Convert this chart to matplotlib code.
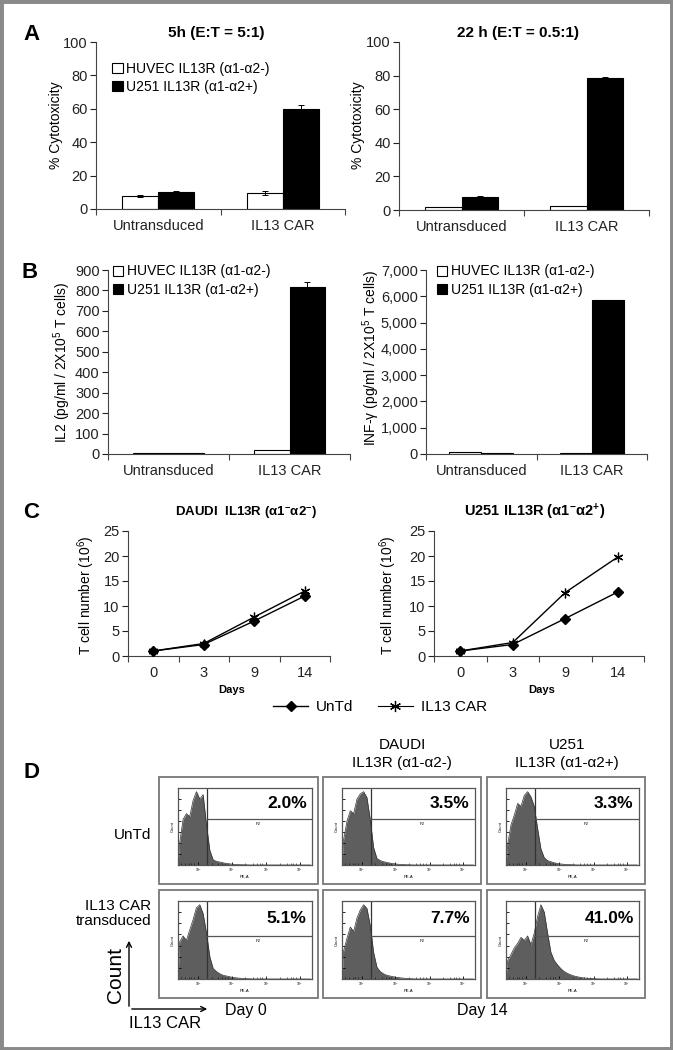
import numpy as np
import matplotlib
matplotlib.use("Agg")
import matplotlib.pyplot as plt
from matplotlib.patches import Rectangle, FancyArrowPatch
from matplotlib.lines import Line2D

plt.rcParams['font.family'] = ['Liberation Sans', 'DejaVu Sans']
plt.rcParams['mathtext.fontset'] = 'custom'
plt.rcParams['mathtext.rm'] = 'Liberation Sans'
plt.rcParams['mathtext.it'] = 'Liberation Sans'
plt.rcParams['mathtext.bf'] = 'Liberation Sans:bold'

# ---- data ----
groups = ["Untransduced", "IL13 CAR"]
series = ["HUVEC IL13R (α1-α2-)", "U251 IL13R (α1-α2+)"]

cyto_5h_huvec = [7.5, 9.5]
cyto_5h_huvec_err = [0.6, 1.0]
cyto_5h_u251 = [10.3, 60.0]
cyto_5h_u251_err = [0.4, 2.0]

cyto_22h_huvec = [2.0, 2.3]
cyto_22h_u251 = [8.0, 78.5]
cyto_22h_u251_err = [0.2, 0.5]

il2_huvec = [5, 18]
il2_u251 = [5, 818]
il2_u251_err = [0, 25]

ifng_huvec = [60, 55]
ifng_u251 = [45, 5850]

days = ["0", "3", "9", "14"]
daudi_untd = [1.0, 2.3, 7.0, 12.0]
daudi_car = [1.0, 2.5, 7.8, 13.0]
u251_untd = [1.0, 2.3, 7.5, 12.8]
u251_car = [1.0, 2.7, 12.7, 19.8]

pct_labels = [["2.0%", "3.5%", "3.3%"], ["5.1%", "7.7%", "41.0%"]]

# flow histograms, 40 bins over the PE-A axis (fraction of peak)
hist_r1c1 = [0.30, 0.62, 0.70, 0.66, 0.88, 1.00, 0.90, 0.96, 0.55, 0.20, 0.07,
             0.05, 0.04, 0.03, 0.02, 0.015, 0.01, 0.006, 0.004, 0.003, 0.002,
             0, 0, 0, 0, 0, 0, 0, 0, 0, 0, 0, 0, 0, 0, 0, 0, 0, 0, 0]
hist_r1c2 = [0.35, 0.60, 0.74, 0.70, 0.90, 0.97, 1.00, 0.92, 0.62, 0.24, 0.09,
             0.06, 0.045, 0.035, 0.025, 0.018, 0.012, 0.008, 0.005, 0.003,
             0.002, 0, 0, 0, 0, 0, 0, 0, 0, 0, 0, 0, 0, 0, 0, 0, 0, 0, 0, 0]
hist_r1c3 = [0.28, 0.55, 0.68, 0.84, 0.80, 0.95, 1.00, 0.93, 0.80, 0.50, 0.22,
             0.10, 0.06, 0.045, 0.03, 0.02, 0.014, 0.009, 0.006, 0.004,
             0.002, 0, 0, 0, 0, 0, 0, 0, 0, 0, 0, 0, 0, 0, 0, 0, 0, 0, 0, 0]
hist_r2c1 = [0.50, 0.58, 0.52, 0.66, 0.80, 0.96, 1.00, 0.88, 0.62, 0.30, 0.14,
             0.10, 0.07, 0.05, 0.04, 0.03, 0.02, 0.015, 0.01, 0.006, 0.004,
             0.002, 0, 0, 0, 0, 0, 0, 0, 0, 0, 0, 0, 0, 0, 0, 0, 0, 0, 0]
hist_r2c2 = [0.38, 0.55, 0.70, 0.64, 0.82, 0.93, 1.00, 0.95, 0.72, 0.36, 0.16,
             0.10, 0.07, 0.05, 0.04, 0.03, 0.022, 0.016, 0.011, 0.007, 0.004,
             0.002, 0, 0, 0, 0, 0, 0, 0, 0, 0, 0, 0, 0, 0, 0, 0, 0, 0, 0]
hist_r2c3 = [0.25, 0.33, 0.42, 0.48, 0.56, 0.52, 0.58, 0.46, 0.62, 0.84, 1.00,
             0.90, 0.62, 0.36, 0.25, 0.19, 0.14, 0.10, 0.075, 0.055, 0.04,
             0.03, 0.02, 0.014, 0.01, 0.006, 0.004, 0.002, 0, 0,
             0, 0, 0, 0, 0, 0, 0, 0, 0, 0]
hists = [[hist_r1c1, hist_r1c2, hist_r1c3], [hist_r2c1, hist_r2c2, hist_r2c3]]

# ---- layout helpers (pixel coords, origin top-left) ----
W, H = 673, 1050
fig = plt.figure(figsize=(W / 100, H / 100), dpi=100)
TICK_FS = 10.5


def px_axes(x0, y0, x1, y1):
    return fig.add_axes([x0 / W, 1 - y1 / H, (x1 - x0) / W, (y1 - y0) / H])


def ftext(x, y, s, **kw):
    kw.setdefault('ha', 'center')
    kw.setdefault('va', 'center')
    return fig.text(x / W, 1 - y / H, s, **kw)


def style_spines(ax):
    for s in ['top', 'right']:
        ax.spines[s].set_visible(False)
    for s in ['left', 'bottom']:
        ax.spines[s].set_linewidth(0.8)
        ax.spines[s].set_color('#444444')
    ax.tick_params(axis='y', direction='out', length=4, width=0.8,
                   labelsize=TICK_FS, colors='#222222', pad=2)
    ax.tick_params(axis='x', which='major', direction='out', length=4,
                   width=0.8, labelbottom=False, colors='#444444')
    ax.tick_params(axis='x', which='minor', length=0, labelsize=TICK_FS,
                   pad=7, labelcolor='#222222')


def bar_panel(ax, white, black, white_err=None, black_err=None):
    x = np.arange(len(groups))
    w = 0.29
    ax.bar(x - w / 2, white, w, color='white', edgecolor='black', lw=0.8,
           yerr=white_err, error_kw=dict(lw=0.7, capsize=2, capthick=0.7),
           label=series[0], zorder=2)
    ax.bar(x + w / 2, black, w, color='black', edgecolor='black', lw=0.8,
           yerr=black_err, error_kw=dict(lw=0.7, capsize=2, capthick=0.7),
           label=series[1], zorder=2)
    style_spines(ax)
    ax.set_xlim(-0.5, 1.5)
    ax.set_xticks([-0.5, 0.5, 1.5])
    ax.set_xticks(x, minor=True)
    ax.set_xticklabels(groups, minor=True)


def bar_legend(ax, loc_xy):
    ax.legend(loc='upper left', bbox_to_anchor=loc_xy, frameon=False,
              fontsize=10, handlelength=0.75, handleheight=0.75,
              handletextpad=0.25, labelspacing=0.3, borderaxespad=0,
              borderpad=0)


# ---- Panel A ----
axA1 = px_axes(96, 42, 345, 209)
bar_panel(axA1, cyto_5h_huvec, cyto_5h_u251, cyto_5h_huvec_err, cyto_5h_u251_err)
axA1.set_ylim(0, 100)
axA1.set_yticks(range(0, 101, 20))
bar_legend(axA1, (0.065, 0.88))
ftext(216, 33, "5h (E:T = 5:1)", fontsize=11, fontweight='bold')
ftext(56, 125, "% Cytotoxicity", fontsize=10, rotation=90)

axA2 = px_axes(399, 42, 649, 210)
bar_panel(axA2, cyto_22h_huvec, cyto_22h_u251, None, cyto_22h_u251_err)
axA2.set_ylim(0, 100)
axA2.set_yticks(range(0, 101, 20))
ftext(518, 33, "22 h (E:T = 0.5:1)", fontsize=11, fontweight='bold')
ftext(358, 125, "% Cytotoxicity", fontsize=10, rotation=90)

ftext(31, 34, "A", fontsize=16, fontweight='bold')

# ---- Panel B ----
axB1 = px_axes(108, 270, 350, 454)
bar_panel(axB1, il2_huvec, il2_u251, None, il2_u251_err)
axB1.set_ylim(0, 900)
axB1.set_yticks(range(0, 901, 100))
bar_legend(axB1, (0.02, 1.03))
ftext(62, 362, "IL2 (pg/ml / 2X10$^5$ T cells)", fontsize=10, rotation=90)

axB2 = px_axes(426, 270, 647, 454)
bar_panel(axB2, ifng_huvec, ifng_u251)
axB2.set_ylim(0, 7000)
axB2.set_yticks(range(0, 7001, 1000))
axB2.set_yticklabels([f"{v:,}" for v in range(0, 7001, 1000)])
bar_legend(axB2, (0.05, 1.03))
ftext(371, 358, "INF-γ (pg/ml / 2X10$^5$ T cells)", fontsize=10, rotation=90)

ftext(30, 273, "B", fontsize=16, fontweight='bold')


# ---- Panel C ----
def growth_panel(ax, untd, car):
    x = np.arange(len(days))
    ax.plot(x, untd, color='black', lw=1.0, marker='D', ms=5,
            mfc='black', mec='black', zorder=3)
    ax.plot(x, car, color='black', lw=1.0, marker=(6, 2, 0), ms=7,
            mew=0.9, zorder=3)
    style_spines(ax)
    ax.set_ylim(0, 25)
    ax.set_yticks(range(0, 26, 5))
    ax.set_xlim(-0.5, len(days) - 0.5)
    ax.set_xticks(np.arange(len(days) + 1) - 0.5)
    ax.set_xticks(x, minor=True)
    ax.set_xticklabels(days, minor=True)


axC1 = px_axes(128, 531, 330, 656)
growth_panel(axC1, daudi_untd, daudi_car)
ftext(246, 513, "DAUDI  IL13R (α1$^{\\mathbf{-}}$α2$^{\\mathbf{-}}$)",
      fontsize=9.5, fontweight='bold')
ftext(232, 690, "Days", fontsize=8, fontweight='bold')
ftext(86, 595, "T cell number (10$^6$)", fontsize=10, rotation=90)

axC2 = px_axes(434, 531, 644, 656)
growth_panel(axC2, u251_untd, u251_car)
ftext(535, 512, "U251 IL13R (α1$^{\\mathbf{-}}$α2$^{\\mathbf{+}}$)",
      fontsize=10.5, fontweight='bold')
ftext(542, 690, "Days", fontsize=8, fontweight='bold')
ftext(388, 595, "T cell number (10$^6$)", fontsize=10, rotation=90)

ftext(31, 513, "C", fontsize=16, fontweight='bold')

handles = [Line2D([], [], color='black', lw=1.0, marker='D', ms=5),
           Line2D([], [], color='black', lw=0.8, marker=(6, 2, 0), ms=8, mew=0.9)]
fig.legend(handles, ["UnTd", "IL13 CAR"], loc='center',
           bbox_to_anchor=(380 / W, 1 - 707 / H), ncol=2, frameon=False,
           fontsize=11, handlelength=2.3, columnspacing=1.6, handletextpad=0.5)

# ---- Panel D ----
ftext(31, 773, "D", fontsize=16, fontweight='bold')
ftext(402, 745, "DAUDI", fontsize=11)
ftext(402, 763, "IL13R (α1-α2-)", fontsize=11)
ftext(567, 745, "U251", fontsize=11)
ftext(567, 763, "IL13R (α1-α2+)", fontsize=11)
ftext(151, 835, "UnTd", fontsize=11, ha='right')
ftext(151, 906, "IL13 CAR", fontsize=11, ha='right')
ftext(151, 921, "transduced", fontsize=11, ha='right')

box_cols = [(159, 318), (323, 481), (487, 645)]
box_rows = [(777, 884), (890, 998)]
gate_frac = [0.63, 0.58]
edges = np.linspace(0, 1, 41)
centers = (edges[:-1] + edges[1:]) / 2
xmaj = [0.15, 0.40, 0.66, 0.91]

for r, (by0, by1) in enumerate(box_rows):
    for c, (bx0, bx1) in enumerate(box_cols):
        fig.patches.append(Rectangle((bx0 / W, 1 - by1 / H), (bx1 - bx0) / W,
                                     (by1 - by0) / H, transform=fig.transFigure,
                                     fill=False, ec='#777777', lw=1.3))
        ix0, ix1, iy0, iy1 = bx0 + 19, bx1 - 6, by0 + 11, by1 - 19
        ax = px_axes(ix0, iy0, ix1, iy1)
        xs = np.concatenate([[0], centers])
        ys = np.concatenate([[0], hists[r][c]])
        ax.fill_between(xs, ys, color='#5e5e5e', lw=0)
        ax.plot(xs, ys, color='#333333', lw=0.5)
        ax.set_xlim(0, 1)
        ax.set_ylim(0, 1.05)
        for s in ax.spines.values():
            s.set_linewidth(0.9)
            s.set_color('#555555')
        gx = 0.22
        ax.axvline(gx, color='#333333', lw=0.9)
        ax.plot([gx, 1], [gate_frac[r]] * 2, color='#555555', lw=0.9)
        ax.set_xticks(xmaj)
        ax.set_xticklabels(["10$^2$", "10$^3$", "10$^4$", "10$^5$"])
        ax.set_xticks([0.02, 0.05, 0.08, 0.10, 0.12, 0.25, 0.30, 0.33, 0.35,
                       0.37, 0.50, 0.56, 0.59, 0.61, 0.63, 0.76, 0.81, 0.84,
                       0.86, 0.88], minor=True)
        ax.set_yticks([0.15, 0.3, 0.45, 0.6, 0.75, 0.9])
        ax.set_yticklabels(["", "", "", "", "", ""])
        ax.tick_params(axis='both', which='major', direction='in', length=2,
                       width=0.6, labelsize=2.5, pad=1)
        ax.tick_params(axis='x', which='minor', direction='in', length=1.2,
                       width=0.4)
        ax.set_xlabel("PE-A", fontsize=3, labelpad=1)
        ax.set_ylabel("Count", fontsize=3, labelpad=1)
        ax.text(0.6, gate_frac[r] - 0.07, "P2", fontsize=3, ha='center',
                va='top', transform=ax.transAxes)
        ax.text(0.96, (1.05 + gate_frac[r]) / 2 / 1.05, pct_labels[r][c],
                fontsize=12.5, fontweight='bold', ha='right', va='center',
                transform=ax.transAxes)

# axis key arrows
fig.patches.append(FancyArrowPatch(
    (129 / W, 1 - 1009 / H), (129 / W, 1 - 938 / H), transform=fig.transFigure,
    arrowstyle='->', mutation_scale=9, lw=1.0, color='black'))
fig.patches.append(FancyArrowPatch(
    (129 / W, 1 - 1009 / H), (210 / W, 1 - 1009 / H), transform=fig.transFigure,
    arrowstyle='->', mutation_scale=9, lw=1.0, color='black'))
ftext(116, 975, "Count", fontsize=15, rotation=90)
ftext(165, 1023, "IL13 CAR", fontsize=12)
ftext(246, 1010, "Day 0", fontsize=11.5)
ftext(482, 1010, "Day 14", fontsize=11.5)

# outer grey frame
fig.patches.append(Rectangle((0, 0), 1, 1, transform=fig.transFigure,
                             fill=False, ec='#8a8a8a', lw=5))

fig.savefig("out.png", dpi=100, facecolor='white')
